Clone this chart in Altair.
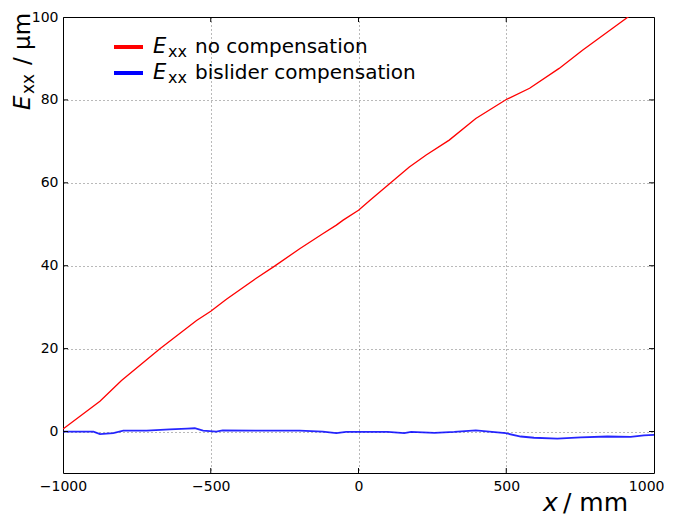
import altair as alt
import pandas as pd

# ---- data ----
red_x = [-1000, -875, -802, -672, -548, -500, -447, -346, -284, -199, -121, -75, -52, 0,
         39, 105, 172, 229, 307, 397, 500, 579, 679, 758, 860, 916, 1000]
red_y = [0.6, 7.3, 12.3, 20.0, 26.8, 29.0, 31.9, 37.0, 39.9, 44.1, 47.7, 49.8, 51.0, 53.4,
         55.8, 59.8, 63.8, 66.7, 70.3, 75.5, 80.1, 82.8, 87.6, 92.0, 97.3, 100.2, 104.5]

blue_x = [-1000, -897, -875, -830, -796, -717, -639, -580, -554, -526, -481, -460, -334,
          -199, -121, -75, -42, 3, 99, 155, 178, 257, 324, 397, 470, 498, 549, 594, 673,
          752, 842, 921, 966, 1000]
blue_y = [0.0, 0.0, -0.6, -0.4, 0.2, 0.2, 0.5, 0.7, 0.8, 0.2, 0.0, 0.3, 0.2,
          0.2, 0.0, -0.4, -0.1, -0.1, -0.1, -0.4, -0.1, -0.3, -0.1, 0.3, -0.2, -0.4, -1.2, -1.5, -1.7,
          -1.4, -1.2, -1.3, -0.9, -0.8]

series_names = ["no compensation", "bislider compensation"]
series_colors = ["#ff0000", "#0000ff"]

x_ticks = [-1000, -500, 0, 500, 1000]
y_ticks = [0, 20, 40, 60, 80, 100]
x_inner_ticks = [-500, 0, 500]
y_inner_ticks = [0, 20, 40, 60, 80]

W, H = 591, 456
FONT = "DejaVu Sans"

df = pd.DataFrame({
    "x": red_x + blue_x,
    "y": red_y + blue_y,
    "s": [series_names[0]] * len(red_x) + [series_names[1]] * len(blue_x),
})

xs = alt.Scale(domain=[-1000, 1000], nice=False, zero=False)
ys = alt.Scale(domain=[-10, 100], nice=False, zero=False)

last_x = x_ticks[-1]
xaxis = alt.Axis(
    values=x_ticks, title=None, grid=True, domain=False, ticks=False,
    labelPadding=6, format="d", labelFlush=False,
    labelAlign={"condition": {"test": f"datum.value == {last_x}", "value": "right"}, "value": "center"},
    labelOffset={"condition": {"test": f"datum.value == {last_x}", "value": 10}, "value": 0},
)
yaxis = alt.Axis(values=y_ticks, title=None, grid=True, domain=False, ticks=False,
                 labelPadding=5, format="d", labelFlush=False)

red_line = alt.Chart(df[df.s == series_names[0]]).mark_line(
    clip=True, strokeWidth=1.3, color=series_colors[0]
).encode(x=alt.X("x:Q", scale=xs, axis=xaxis), y=alt.Y("y:Q", scale=ys, axis=yaxis), order="x:Q")

blue_line = alt.Chart(df[df.s == series_names[1]]).mark_line(
    clip=True, strokeWidth=1.8, color=series_colors[1], opacity=0.85
).encode(x="x:Q", y="y:Q", order="x:Q")

# inside ticks on all four sides
xt = pd.DataFrame({"v": x_inner_ticks})
yt = pd.DataFrame({"v": y_inner_ticks})
tick_top = alt.Chart(xt).mark_rule(color="black", strokeWidth=1).encode(
    x="v:Q", y=alt.value(0), y2=alt.value(5))
tick_bot = alt.Chart(xt).mark_rule(color="black", strokeWidth=1).encode(
    x="v:Q", y=alt.value(H), y2=alt.value(H - 5))
tick_left = alt.Chart(yt).mark_rule(color="black", strokeWidth=1).encode(
    y="v:Q", x=alt.value(0), x2=alt.value(5))
tick_right = alt.Chart(yt).mark_rule(color="black", strokeWidth=1).encode(
    y="v:Q", x=alt.value(W), x2=alt.value(W - 5))


def txt(s, x, y, size, italic=False, angle=0):
    kw = dict(font=FONT, fontSize=size, align="left", baseline="alphabetic", color="black")
    if italic:
        kw["fontStyle"] = "italic"
    if angle:
        kw["angle"] = angle
    return alt.Chart(pd.DataFrame({"t": [s]})).mark_text(**kw).encode(
        x=alt.value(x), y=alt.value(y), text="t:N")


# legend
legend_parts = []
for i, (name, col) in enumerate(zip(series_names, series_colors)):
    yb = 36 + 26 * i
    legend_parts.append(
        alt.Chart(pd.DataFrame({"s": [name]})).mark_rule(color=col, strokeWidth=4, strokeCap="butt")
        .encode(x=alt.value(51), x2=alt.value(80), y=alt.value(yb - 6)))
    legend_parts.append(txt("E", 90, yb, 21, italic=True))
    legend_parts.append(txt("xx", 105, yb + 4, 16))
    legend_parts.append(txt(name, 132, yb, 20))

# axis titles
titles = [
    txt("x", 480, 494, 25, italic=True),
    txt("/ mm", 500, 494, 25),
    txt("E", -33, 93, 23, italic=True, angle=270),
    txt("xx", -29, 77, 17, angle=270),
    txt("/ µm", -33, 48, 23, angle=270),
]

chart = alt.layer(
    red_line, blue_line, tick_top, tick_bot, tick_left, tick_right, *legend_parts, *titles
).properties(
    width=W, height=H,
    autosize=alt.AutoSizeParams(type="none"),
    padding={"left": 55, "top": 9, "right": 10, "bottom": 44},
).configure_view(
    stroke="black", strokeWidth=1
).configure_axis(
    labelFont=FONT, labelFontSize=14, labelColor="black",
    gridColor="black", gridOpacity=0.55, gridDash=[1, 3], gridWidth=1,
)

chart.save("out.html", embed_options={"renderer": "svg", "actions": False})
